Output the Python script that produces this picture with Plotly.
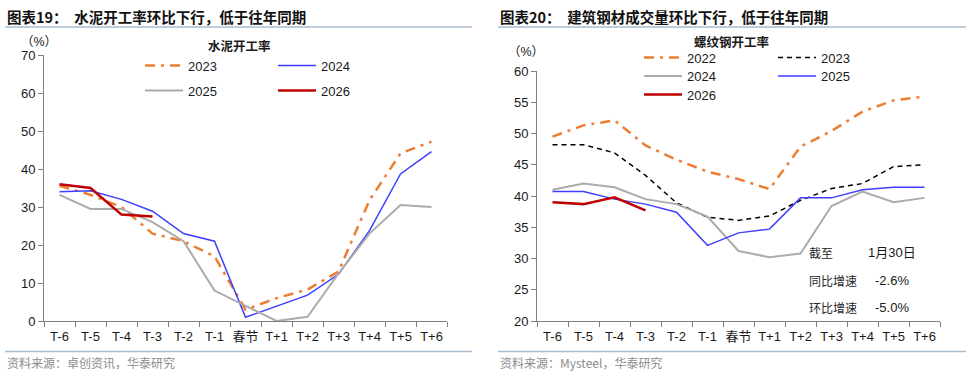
import plotly.graph_objects as go

W, H = 969, 374

categories = ["T-6", "T-5", "T-4", "T-3", "T-2", "T-1", "春节",
              "T+1", "T+2", "T+3", "T+4", "T+5", "T+6"]

# 水泥开工率 (%)
cement_2023 = [35.6, 33.2, 30.0, 23.0, 21.0, 17.0, 3.0, 6.0, 8.3, 13.0, 31.8, 44.1, 47.2]
cement_2024 = [34.0, 34.3, 32.0, 28.9, 23.0, 21.0, 1.0, 4.0, 6.8, 12.3, 23.8, 38.7, 44.6]
cement_2025 = [33.2, 29.5, 29.5, 26.0, 21.0, 8.0, 4.0, 0.0, 1.1, 12.5, 23.0, 30.5, 30.0]
cement_2026 = [36.0, 35.0, 28.0, 27.5]

# 螺纹钢开工率 (%)
rebar_2022 = [49.5, 51.3, 52.1, 48.1, 45.8, 43.9, 42.7, 41.1, 47.9, 50.4, 53.5, 55.3, 55.9]
rebar_2023 = [48.2, 48.2, 46.9, 43.3, 38.9, 36.6, 36.1, 36.8, 39.3, 41.2, 42.0, 44.7, 45.0]
rebar_2024 = [41.0, 42.0, 41.4, 39.5, 38.7, 36.7, 31.2, 30.2, 30.8, 38.4, 40.7, 39.0, 39.7]
rebar_2025 = [40.7, 40.7, 39.5, 38.7, 37.4, 32.1, 34.1, 34.7, 39.7, 39.7, 41.0, 41.4, 41.4]
rebar_2026 = [39.0, 38.7, 39.8, 37.7]

left_title = "图表19：  水泥开工率环比下行，低于往年同期"
right_title = "图表20：  建筑钢材成交量环比下行，低于往年同期"
left_legend_title = "水泥开工率"
right_legend_title = "螺纹钢开工率"
left_source = "资料来源：卓创资讯，华泰研究"
right_source = "资料来源：Mysteel，华泰研究"
note_labels = ["截至", "同比增速", "环比增速"]
note_values = ["1月30日", "-2.6%", "-5.0%"]

ORANGE = "#ED7D31"
BLUE = "#3F3FFF"
GRAY = "#ABABAB"
RED = "#C00000"
BLACK = "#000000"
FONT = "Liberation Sans, Arial, Noto Sans CJK SC, sans-serif"
CJK = "Noto Sans CJK SC, sans-serif"


def px(x):
    return x / W


def py(y):
    return (H - y) / H


fig = go.Figure()


def add(y, name, color, width, dash, xa, ya, legend_id):
    fig.add_trace(go.Scatter(
        x=categories[:len(y)], y=y, name=name, mode="lines",
        line=dict(color=color, width=width, dash=dash),
        xaxis=xa, yaxis=ya, legend=legend_id, showlegend=True,
    ))


add(cement_2023, "2023", ORANGE, 2.5, "10px,6px,3px,6px", "x", "y", "legend")
add(cement_2024, "2024", BLUE, 1.5, "solid", "x", "y", "legend2")
add(cement_2025, "2025", GRAY, 2.0, "solid", "x", "y", "legend3")
add(cement_2026, "2026", RED, 2.5, "solid", "x", "y", "legend4")

add(rebar_2022, "2022", ORANGE, 2.5, "10px,6px,3px,6px", "x2", "y2", "legend5")
add(rebar_2023, "2023", BLACK, 1.5, "5px,4px", "x2", "y2", "legend6")
add(rebar_2024, "2024", GRAY, 2.0, "solid", "x2", "y2", "legend7")
add(rebar_2025, "2025", BLUE, 1.5, "solid", "x2", "y2", "legend8")
add(rebar_2026, "2026", RED, 2.5, "solid", "x2", "y2", "legend9")

ITEMW = 38
legend_pos = {
    "legend": (188, 65.5),
    "legend2": (321, 65.5),
    "legend3": (188, 90.5),
    "legend4": (321, 90.5),
    "legend5": (687, 57.5),
    "legend6": (821, 57.5),
    "legend7": (687, 76),
    "legend8": (821, 76),
    "legend9": (687, 94.5),
}
legend_layouts = {}
for k, (tx, ty) in legend_pos.items():
    legend_layouts[k] = dict(
        x=px(tx - ITEMW - 10), y=py(ty), xanchor="left", yanchor="middle",
        xref="paper", yref="paper", bgcolor="rgba(0,0,0,0)",
        font=dict(family=FONT, size=13, color="#1a1a1a"),
        itemwidth=ITEMW, orientation="v", tracegroupgap=0,
    )

axis_common = dict(
    showline=True, linecolor="#7F7F7F", linewidth=1, mirror=False,
    showgrid=False, zeroline=False, ticks="outside", ticklen=5,
    tickcolor="#7F7F7F", tickfont=dict(family=FONT, size=13, color="#1a1a1a"),
)

fig.update_layout(
    width=W, height=H,
    margin=dict(l=0, r=0, t=0, b=0, autoexpand=False),
    paper_bgcolor="white", plot_bgcolor="white",
    xaxis=dict(domain=[px(44), px(447)], anchor="y", type="category",
               categoryorder="array", categoryarray=categories,
               tickson="boundaries", range=[-0.5, 12.5], tickangle=0,
               ticklabelstandoff=3, **axis_common),
    yaxis=dict(domain=[py(321), py(55)], anchor="x", range=[0, 70],
               dtick=10, **axis_common),
    xaxis2=dict(domain=[px(537), px(940)], anchor="y2", type="category",
                categoryorder="array", categoryarray=categories,
                tickson="boundaries", range=[-0.5, 12.5], tickangle=0,
                ticklabelstandoff=3, **axis_common),
    yaxis2=dict(domain=[py(321), py(71)], anchor="x2", range=[20, 60],
                dtick=5, **axis_common),
    showlegend=True,
    **legend_layouts,
)

ann = []


def text(x, y, s, size=13, color="#1a1a1a", bold=False, xanchor="left", family=CJK):
    ann.append(dict(x=px(x), y=py(y), xref="paper", yref="paper", text=(f"<b>{s}</b>" if bold else s),
                    showarrow=False, xanchor=xanchor, yanchor="middle",
                    font=dict(family=family, size=size, color=color)))


text(5, 17, left_title, size=14.5, bold=True, color="#111111")
text(498, 17, right_title, size=14.5, bold=True, color="#111111")
text(239, 45, left_legend_title, size=12.5, bold=True, xanchor="center")
text(731, 41, right_legend_title, size=12.5, bold=True, xanchor="center")
text(39, 42, "（%）", size=12.5, xanchor="center", family=FONT)
text(526, 52, "（%）", size=12.5, xanchor="center", family=FONT)
text(5, 362, left_source, size=12, color="#8C8C8C")
text(498, 362, right_source, size=12, color="#8C8C8C")
for lab, val, yy in zip(note_labels, note_values, [252, 280, 307]):
    text(807, yy, lab, size=12, color="#262626")
    text(892, yy, val, size=13, color="#1a1a1a", xanchor="center", family=FONT)

fig.update_layout(annotations=ann)

shapes = []
for (x0, x1) in [(5, 472), (498, 966)]:
    for yy in (27, 351.5):
        shapes.append(dict(type="line", xref="paper", yref="paper",
                           x0=px(x0), x1=px(x1), y0=py(yy), y1=py(yy),
                           line=dict(color="#A9BCCF", width=1.5)))
fig.update_layout(shapes=shapes)

fig.write_html("out.html", config={"displayModeBar": False},
               post_script="document.body.style.margin='0';document.body.style.overflow='hidden';")
